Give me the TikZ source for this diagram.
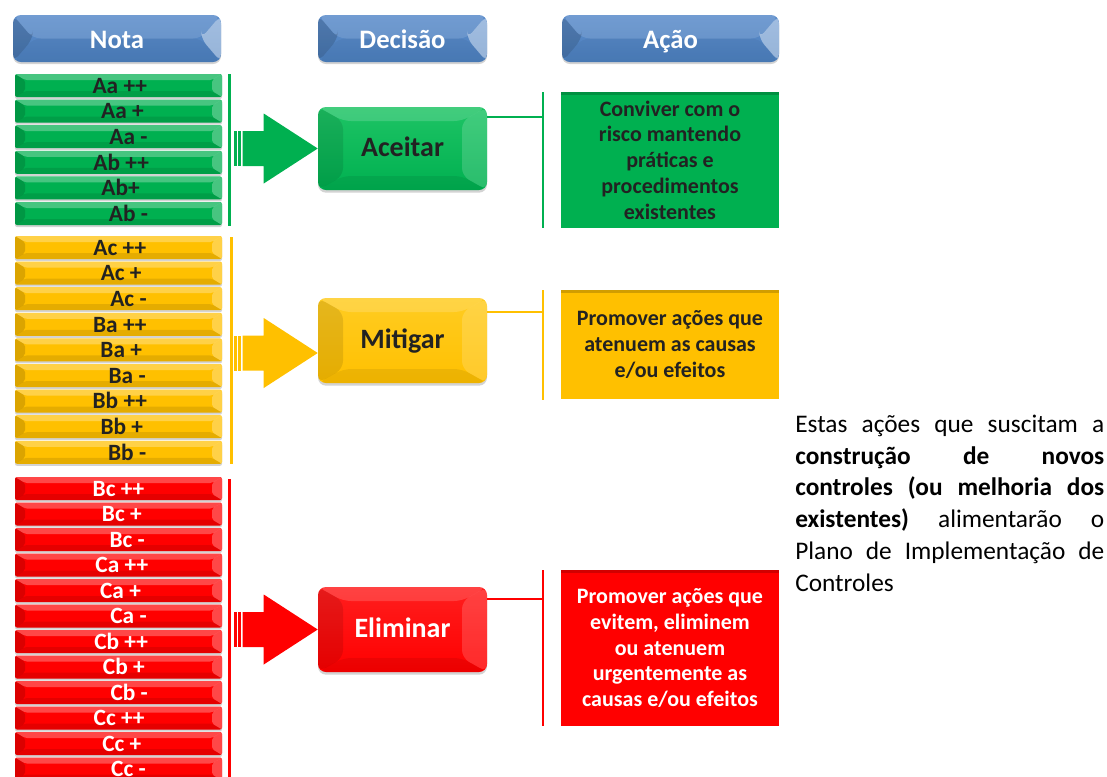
\documentclass[tikz,border=0pt]{standalone}
\usepackage{fontspec}
\setmainfont{Carlito}
\usetikzlibrary{calc,shadows}

\definecolor{gBase}{HTML}{00B050}
\definecolor{gLight}{HTML}{1EC465}
\definecolor{yBase}{HTML}{FFC000}
\definecolor{yLight}{HTML}{FFCC22}
\definecolor{rBase}{HTML}{FF0000}
\definecolor{rLight}{HTML}{FF1E1E}
\definecolor{bBase}{HTML}{4A7DBB}
\definecolor{bLight}{HTML}{5F8FCC}
\definecolor{txt}{HTML}{222222}

\tikzset{
  bevel/.style n args={6}{path picture={
    \coordinate (bnw) at (path picture bounding box.north west);
    \coordinate (bne) at (path picture bounding box.north east);
    \coordinate (bsw) at (path picture bounding box.south west);
    \coordinate (bse) at (path picture bounding box.south east);
    \coordinate (inw) at ($(bnw)+(#1,#2)$);
    \coordinate (ine) at ($(bne)+(-#1,#2)$);
    \coordinate (isw) at ($(bsw)+(#1,-#2)$);
    \coordinate (ise) at ($(bse)+(-#1,-#2)$);
    \fill[white,opacity=#3] (bnw)--(bne)--(ine)--(inw)--cycle;
    \fill[black,opacity=#4] (bnw)--(inw)--(isw)--(bsw)--cycle;
    \fill[white,opacity=#5] (bne)--(bse)--(ise)--(ine)--cycle;
    \fill[black,opacity=#6] (bsw)--(isw)--(ise)--(bse)--cycle;
  }},
  softshadow/.style={drop shadow={shadow xshift=0pt,shadow yshift=-1.5pt,opacity=.35}},
  hdr/.style={rounded corners=6pt, minimum height=35.25pt, inner sep=0pt,
    text height=17pt, text depth=2pt,
    top color=bLight, bottom color=bBase, bevel={20}{23.5}{.12}{.15}{.42}{.04}, text=white,
    font=\fontsize{20}{24}\selectfont\bfseries, softshadow},
  barbox/.style={minimum width=155.25pt, minimum height=17.25pt, inner sep=0pt,
    text height=12.5pt, text depth=0.8pt,
    rounded corners=1.5pt, font=\fontsize{17.5}{18}\selectfont\bfseries,
    bevel={10}{6}{.28}{.14}{.28}{.10}, softshadow},
  gbar/.style={barbox, fill=gBase, text=txt},
  ybar/.style={barbox, fill=yBase, text=txt},
  rbar/.style={barbox, fill=rBase, text=white},
  dec/.style={minimum width=126.75pt, inner sep=0pt, rounded corners=6pt,
    text height=14pt, text depth=2.2pt,
    font=\fontsize{21}{24}\selectfont\bfseries, bevel={25}{14}{.16}{.10}{.16}{.07},
    drop shadow={shadow xshift=0pt,shadow yshift=-2pt,opacity=.35}},
  act/.style={minimum width=163.5pt, inner sep=0pt, align=center,
    font=\fontsize{16.5}{19.3}\selectfont\bfseries,
    path picture={\fill[black,opacity=.18] (path picture bounding box.north west) rectangle ($(path picture bounding box.north east)+(0,3)$);}},
  brk/.style={line width=2.25pt},
  thin/.style={line width=1.5pt},
}

\begin{document}
\begin{tikzpicture}[x=0.75pt,y=-0.75pt]
\useasboundingbox (0,0) rectangle (1107,776);

% headers
\node[hdr, minimum width=156pt] (hnota) at (117,38.5) {Nota};
\node[hdr, minimum width=126.75pt] (hdec) at (402.5,38.5) {Decisão};
\node[hdr, minimum width=162.75pt] (hacao) at (670.5,38.5) {Ação};

% green bars
\foreach \lab/\sh [count=\i] in {Aa ++/2, Aa +/6, Aa -/15, Ab ++/4, Ab+/3, Ab -/15}
  \node[gbar] (g\i) at (118.5,{85.5+25.6*(\i-1)}) {\hspace*{\sh pt}\lab};
% yellow bars
\foreach \lab/\sh [count=\i] in {Ac ++/2, Ac +/4, Ac -/15, Ba ++/2, Ba +/4, Ba -/13, Bb ++/2, Bb +/5, Bb -/13}
  \node[ybar] (y\i) at (118.5,{247.5+25.6*(\i-1)}) {\hspace*{\sh pt}\lab};
% red bars
\foreach \lab/\sh [count=\i] in {Bc ++/0, Bc +/5, Bc -/13, Ca ++/5, Ca +/3, Ca -/15, Cb ++/4, Cb +/8, Cb -/16, Cc ++/1, Cc +/5, Cc -/15}
  \node[rbar] (r\i) at (118.5,{488.5+25.5*(\i-1)}) {\hspace*{\sh pt}\lab};

% decision boxes
\node[dec, minimum height=62.25pt, top color=gLight, bottom color=gBase, text=txt] (acc) at (402.5,148.5) {Aceitar};
\node[dec, minimum height=63.75pt, top color=yLight, bottom color=yBase, text=txt] (mit) at (402.5,340.5) {Mitigar};
\node[dec, minimum height=63.75pt, top color=rLight, bottom color=rBase, text=white] (eli) at (402.5,629.5) {Eliminar};

% action boxes
\node[act, fill=gBase, text=txt, minimum height=102pt] (ag) at (670,160)
  {Conviver com o\\risco mantendo\\práticas e\\procedimentos\\existentes};
\node[act, fill=yBase, text=txt, minimum height=81.75pt] (ay) at (670,344.5)
  {Promover ações que\\atenuem as causas\\e/ou efeitos};
\node[act, fill=rBase, text=white, minimum height=117pt] (ar) at (670,648)
  {Promover ações que\\evitem, eliminem\\ou atenuem\\urgentemente as\\causas e/ou efeitos};

% brackets at the notes
\coordinate (gbt) at (229.5,74);  \coordinate (gbb) at (229.5,226);
\coordinate (ybt) at (231,237);   \coordinate (ybb) at (231,464);
\coordinate (rbt) at (229.5,479); \coordinate (rbb) at (229.5,790);
\draw[brk, gBase] (gbt) -- (gbb);
\draw[brk, yBase] (ybt) -- (ybb);
\draw[brk, rBase] (rbt) -- (rbb);

% striped arrows
\coordinate (gtip) at (acc.west);
\coordinate (ytip) at ($(mit.west)+(0,12.5)$);
\coordinate (rtip) at (eli.west);
\foreach \t/\c in {gtip/gBase, ytip/yBase, rtip/rBase}{
  \fill[\c] (\t) -- ++(-54,-35) -- ++(0,17.5) -- ++(-21,0) -- ++(0,35) -- ++(21,0) -- ++(0,17.5) -- cycle;
  \fill[\c] ($(\t)+(-79.5,-17.5)$) rectangle ++(3,35);
  \fill[\c] ($(\t)+(-84,-17.5)$) rectangle ++(3,35);
}

% brackets at the actions
\coordinate (gvt) at (543,92);  \coordinate (gvb) at (543,228);
\coordinate (yvt) at (543,290); \coordinate (yvb) at (543,400);
\coordinate (rvt) at (543,570); \coordinate (rvb) at (543,726);
\draw[thin, gBase] (gvt) -- (gvb);
\draw[thin, yBase] (yvt) -- (yvb);
\draw[thin, rBase] (rvt) -- (rvb);
\path (acc.north east) ++(0,10) coordinate (gh);
\path (mit.north east) ++(0,14) coordinate (yh);
\path (eli.north east) ++(0,12) coordinate (rh);
\draw[thin, gBase] (gh) -- (gh -| gvt);
\draw[thin, yBase] (yh) -- (yh -| yvt);
\draw[thin, rBase] (rh) -- (rh -| rvt);

% note
\node[anchor=north west, inner sep=0pt, text width=231.75pt, align=justify,
  font=\fontsize{19}{23.8}\selectfont, text=black] (note) at (795,410)
  {\strut Estas ações que suscitam a\linebreak
   \textbf{construção de novos}\linebreak
   \textbf{controles (ou melhoria dos}\linebreak
   \textbf{existentes)} alimentarão o\linebreak
   Plano de Implementação de\linebreak
   Controles};
\end{tikzpicture}
\end{document}
